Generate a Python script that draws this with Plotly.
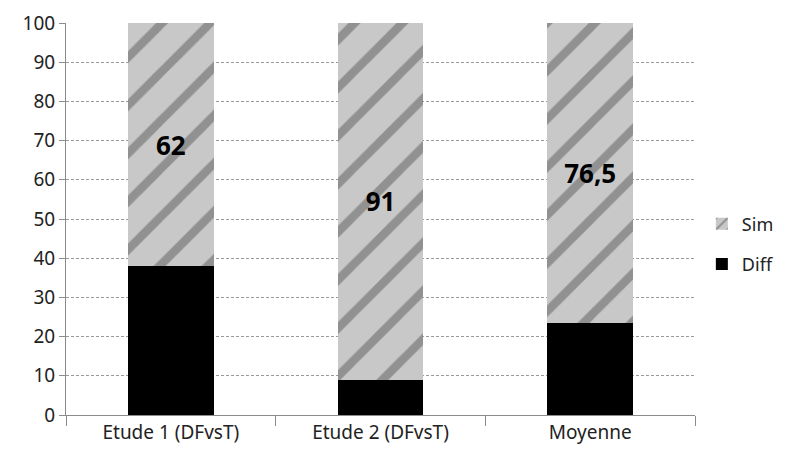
import plotly.graph_objects as go

categories = ["Etude 1 (DFvsT)", "Etude 2 (DFvsT)", "Moyenne"]
diff_values = [38, 9, 23.5]
sim_values = [62, 91, 76.5]
sim_labels = ["62", "91", "76,5"]
y_ticks = list(range(0, 101, 10))

font_family = "Noto Sans, Open Sans, Liberation Sans, sans-serif"

fig = go.Figure()
fig.add_trace(go.Bar(
    x=categories, y=diff_values, name="Diff",
    marker=dict(color="#000000", line=dict(width=0)),
    legendgroup="diff", legendrank=2,
))
fig.add_trace(go.Bar(
    x=categories, y=sim_values, name="Sim",
    text=sim_labels, textposition="inside", insidetextanchor="middle",
    textfont=dict(size=26, color="#000000", family=font_family, weight="bold"),
    textangle=0,
    marker=dict(
        color="#c8c8c8",
        line=dict(width=0),
        pattern=dict(shape="/", fgcolor="#5a5a5a", bgcolor="#c8c8c8",
                     size=34, solidity=0.25, fillmode="overlay"),
    ),
    legendgroup="sim", legendrank=1,
))

fig.update_layout(
    barmode="stack",
    bargap=0.59,
    width=777, height=453,
    margin=dict(l=58, r=90, t=15, b=46, autoexpand=False),
    plot_bgcolor="white", paper_bgcolor="white",
    font=dict(family=font_family, size=18, color="#222222"),
    showlegend=True,
    legend=dict(x=0.893, y=0.479, xref="container", yref="container",
                xanchor="left", yanchor="middle",
                traceorder="grouped", tracegroupgap=14,
                font=dict(size=18, color="#222222"),
                itemwidth=30, bgcolor="rgba(0,0,0,0)"),
    uniformtext=dict(mode="show", minsize=10),
)
fig.update_yaxes(
    range=[0, 100], tickvals=y_ticks, showgrid=True, automargin=False,
    gridcolor="#9a9a9a", griddash="3px,2px", gridwidth=1,
    showline=True, linecolor="#8c8c8c", linewidth=1,
    ticks="outside", ticklen=6, tickcolor="#8c8c8c",
    tickfont=dict(size=19, color="#222222"), zeroline=False,
)
fig.update_xaxes(
    showline=True, linecolor="#8c8c8c", linewidth=1, automargin=False,
    ticks="outside", tickson="boundaries", ticklen=10, tickcolor="#8c8c8c",
    tickfont=dict(size=19, color="#222222"),
)
fig.write_html("out.html")
